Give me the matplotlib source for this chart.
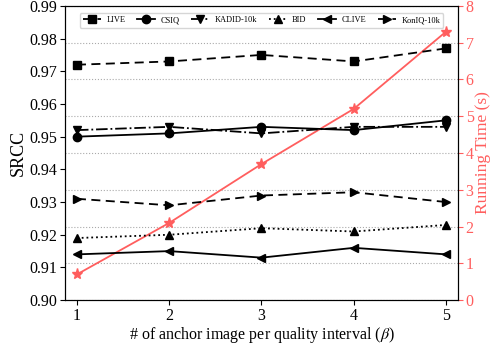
import matplotlib.pyplot as plt
import numpy as np

plt.rcParams['font.family'] = ['Liberation Serif', 'DejaVu Serif']
plt.rcParams['mathtext.fontset'] = 'stix'

anchors = [1, 2, 3, 4, 5]
live = [0.972, 0.973, 0.975, 0.973, 0.977]
csiq = [0.950, 0.951, 0.953, 0.952, 0.955]
kadid = [0.952, 0.953, 0.951, 0.953, 0.953]
bid = [0.919, 0.920, 0.922, 0.921, 0.923]
clive = [0.914, 0.915, 0.913, 0.916, 0.914]
koniq = [0.931, 0.929, 0.932, 0.933, 0.930]
run_time = [0.7, 2.1, 3.7, 5.2, 7.3]

red = '#ff5e5e'

fig = plt.figure(figsize=(4.92, 3.45), dpi=100)
ax = fig.add_axes([0.132, 0.13, 0.799, 0.853])
ax2 = ax.twinx()

# running time on the right axis, drawn with grid lines
ax2.plot(anchors, run_time, color=red, marker='*', markersize=8, lw=1.3)
ax2.set_ylim(0, 8)
ax2.set_ylabel('Running Time (s)', color=red, fontsize=12.5, labelpad=1)
ax2.tick_params(axis='y', colors=red, labelsize=11.5, pad=2)
ax2.yaxis.grid(True, linestyle=':', color='#aaaaaa', lw=0.8)
ax2.set_axisbelow(True)

styles = [
    ('LIVE', live, 's', (0, (5, 3))),
    ('CSIQ', csiq, 'o', '-'),
    ('KADID-10k', kadid, 'v', '-.'),
    ('BID', bid, '^', ':'),
    ('CLIVE', clive, '<', '-'),
    ('KonIQ-10k', koniq, '>', (0, (5, 3))),
]
for name, vals, mk, ls in styles:
    ax.plot(anchors, vals, color='black', marker=mk, linestyle=ls,
            markersize=6, lw=1.3, label=name)

ax.set_zorder(ax2.get_zorder() + 1)
ax.patch.set_visible(False)

ax.set_xlim(0.87, 5.13)
ax.set_ylim(0.90, 0.99)
ax.set_yticks(np.arange(0.90, 0.991, 0.01))
ax.set_xticks(anchors)
ax.tick_params(labelsize=11.5, pad=2)
ax.set_ylabel('SRCC', fontsize=13, labelpad=2)
ax.set_xlabel(r'# of anchor image per quality interval ($\beta$)', fontsize=11.5, labelpad=1)

ax.legend(loc='upper center', ncol=6, fontsize=6, frameon=True,
          handlelength=2.2, columnspacing=1.4, handletextpad=0.6,
          borderpad=0.4, bbox_to_anchor=(0.5, 0.99), fancybox=True,
          edgecolor='#cccccc')

fig.savefig('out.png', dpi=100)
